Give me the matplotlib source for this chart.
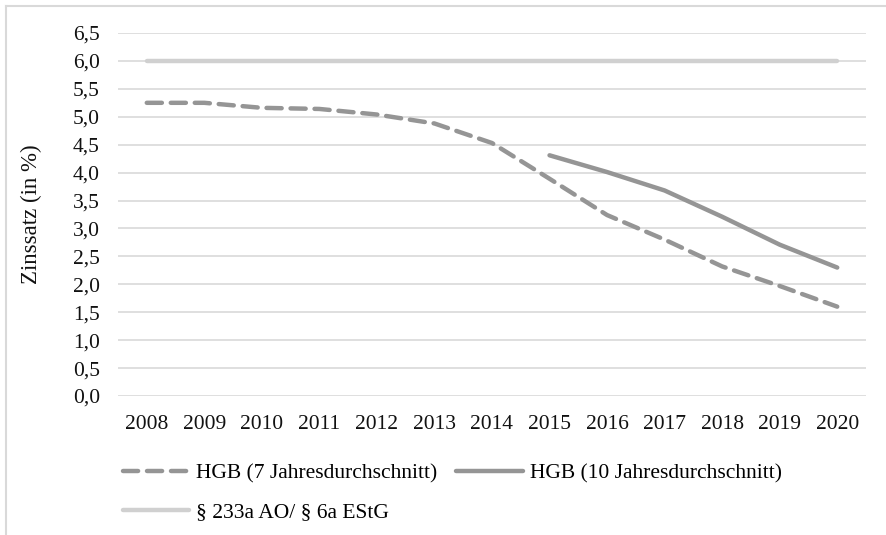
import numpy as np
import matplotlib.pyplot as plt
from matplotlib.lines import Line2D

# Zinssaetze fuer Pensionsrueckstellungen
years = ['2008', '2009', '2010', '2011', '2012', '2013', '2014',
         '2015', '2016', '2017', '2018', '2019', '2020']
hgb_7 = [5.25, 5.25, 5.16, 5.14, 5.04, 4.88, 4.53,
         3.89, 3.24, 2.80, 2.32, 1.97, 1.60]
hgb_10 = [np.nan] * 7 + [4.31, 4.01, 3.68, 3.21, 2.71, 2.30]
estg = [6.0] * 13

yticks = np.arange(0, 6.51, 0.5)

plt.rcParams['font.family'] = ['Liberation Serif', 'DejaVu Serif']
plt.rcParams['font.size'] = 15.5

fig = plt.figure(figsize=(8.87, 5.35), dpi=100)
ax = fig.add_axes([118 / 887, 1 - 396 / 535, 748 / 887, 363 / 535])

x = np.arange(len(years))
l1, = ax.plot(x, hgb_7, color='#959595', lw=3.2, dashes=(3.4, 2.0),
              dash_capstyle='round', label='HGB (7 Jahresdurchschnitt)')
l2, = ax.plot(x, hgb_10, color='#959595', lw=3.2, solid_capstyle='round',
              label='HGB (10 Jahresdurchschnitt)')
l3, = ax.plot(x, estg, color='#d0d0d0', lw=3.2, solid_capstyle='round',
              label='§ 233a AO/ § 6a EStG')

ax.set_xlim(-0.5, 12.5)
ax.set_ylim(0, 6.5)
ax.set_xticks(x)
ax.set_xticklabels(years)
ax.set_yticks(yticks)
ax.set_yticklabels([f'{v:.1f}'.replace('.', ',') for v in yticks])
ax.tick_params(length=0, colors='#111111')
ax.tick_params(axis='x', pad=14)
ax.tick_params(axis='y', pad=13)
ax.grid(axis='y', color='#d9d9d9', lw=1.2)
ax.set_axisbelow(True)
for s in ax.spines.values():
    s.set_visible(False)
ax.set_ylabel('Zinssatz (in %)', labelpad=22, color='#111111', fontsize=16.5)

# Reihenfolge so, dass Zeile 1 die beiden HGB-Linien zeigt
fig.legend(handles=[l1, l3, l2], ncol=2, loc='upper left',
           bbox_to_anchor=(114 / 887, 1 - 455 / 535), frameon=False,
           handlelength=3.1, handletextpad=0.3, columnspacing=0.9,
           labelspacing=0.85, borderaxespad=0)

# Rahmen oben und links
fig.add_artist(Line2D([6 / 887, 1], [1 - 6 / 535, 1 - 6 / 535],
                      transform=fig.transFigure, color='#d9d9d9', lw=1.5))
fig.add_artist(Line2D([6 / 887, 6 / 887], [0, 1 - 6 / 535],
                      transform=fig.transFigure, color='#d9d9d9', lw=1.5))

fig.savefig('out.png', dpi=100)
